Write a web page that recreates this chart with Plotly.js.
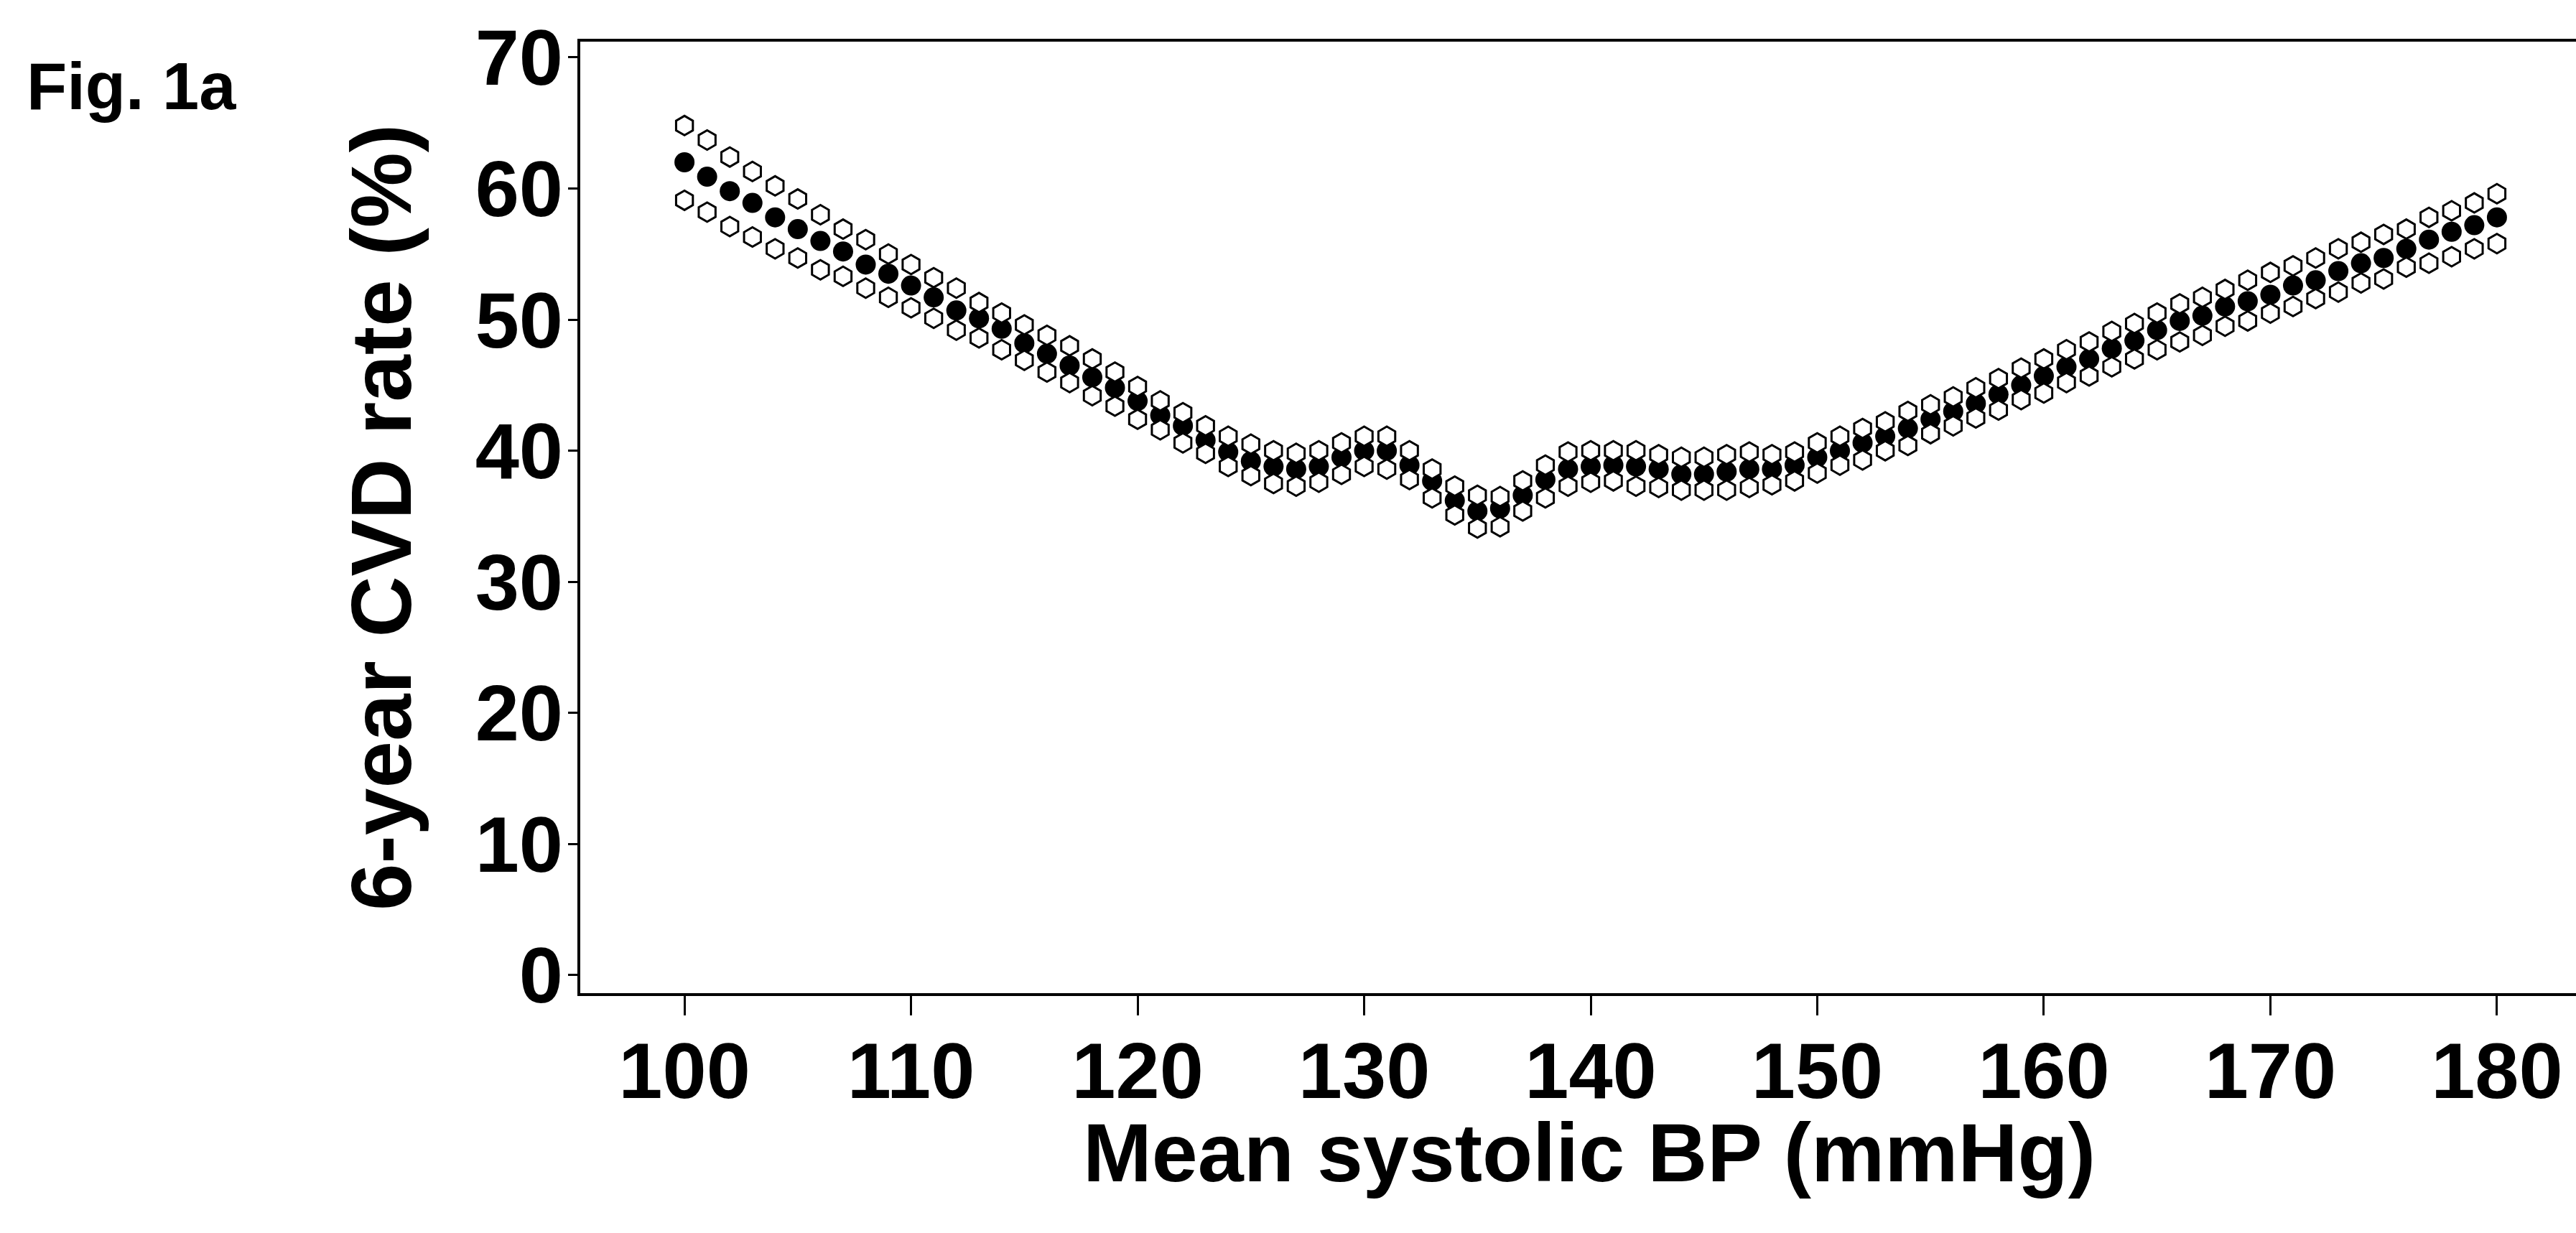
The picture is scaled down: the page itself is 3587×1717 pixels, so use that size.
<!DOCTYPE html>
<html>
<head>
<meta charset="utf-8">
<script src="https://cdn.plot.ly/plotly-3.0.1.min.js"></script>
<style>
  html, body { margin: 0; padding: 0; background: #ffffff; }
  #chart { width: 3587px; height: 1717px; }
</style>
</head>
<body>
<div id="chart"></div>
<script>
// Mean systolic BP (mmHg), one point per mmHg
const systolicBP = [];
for (let v = 100; v <= 180; v++) systolicBP.push(v);

// 6-year CVD rate (%) - point estimate (filled markers)
const cvdRate = [
  62.0, 60.9, 59.8, 58.9, 57.8, 56.9, 56.0, 55.2, 54.2, 53.5,
  52.6, 51.7, 50.7, 50.1, 49.3, 48.2, 47.4, 46.5, 45.6, 44.8,
  43.8, 42.7, 41.9, 40.8, 39.9, 39.2, 38.8, 38.6, 38.8, 39.5,
  40.0, 40.0, 38.9, 37.7, 36.2, 35.4, 35.6, 36.6, 37.8, 38.6,
  38.8, 38.9, 38.8, 38.6, 38.2, 38.2, 38.4, 38.6, 38.6, 38.9,
  39.5, 40.0, 40.6, 41.1, 41.7, 42.4, 43.0, 43.6, 44.3, 45.0,
  45.7, 46.4, 47.0, 47.8, 48.4, 49.2, 49.9, 50.3, 51.0, 51.4,
  51.9, 52.6, 53.0, 53.7, 54.3, 54.7, 55.4, 56.1, 56.7, 57.2,
  57.8
];

// Upper bound (open markers)
const cvdUpper = [
  64.8, 63.7, 62.4, 61.3, 60.2, 59.2, 58.0, 56.9, 56.1, 55.0,
  54.2, 53.2, 52.4, 51.3, 50.5, 49.6, 48.8, 48.0, 47.0, 46.0,
  44.9, 43.8, 42.9, 41.9, 41.1, 40.5, 40.0, 39.8, 40.0, 40.6,
  41.1, 41.1, 40.0, 38.6, 37.3, 36.6, 36.5, 37.7, 38.9, 39.9,
  40.0, 40.0, 40.0, 39.7, 39.5, 39.5, 39.7, 39.9, 39.7, 39.9,
  40.6, 41.1, 41.7, 42.2, 43.0, 43.5, 44.1, 44.8, 45.5, 46.3,
  47.0, 47.7, 48.3, 49.1, 49.7, 50.5, 51.2, 51.7, 52.3, 53.0,
  53.6, 54.1, 54.7, 55.4, 55.9, 56.5, 56.9, 57.8, 58.3, 58.9,
  59.6
];

// Lower bound (open markers)
const cvdLower = [
  59.1, 58.2, 57.1, 56.3, 55.4, 54.7, 53.8, 53.3, 52.4, 51.7,
  50.9, 50.1, 49.2, 48.6, 47.7, 46.9, 46.0, 45.2, 44.2, 43.4,
  42.4, 41.6, 40.6, 39.8, 38.8, 38.1, 37.5, 37.3, 37.6, 38.2,
  38.8, 38.6, 37.8, 36.4, 35.1, 34.1, 34.2, 35.4, 36.4, 37.3,
  37.6, 37.7, 37.3, 37.2, 37.0, 37.0, 37.0, 37.2, 37.4, 37.7,
  38.3, 38.9, 39.3, 40.0, 40.4, 41.3, 41.9, 42.5, 43.1, 43.9,
  44.4, 45.2, 45.7, 46.4, 47.0, 47.7, 48.3, 48.8, 49.5, 49.9,
  50.5, 51.0, 51.6, 52.1, 52.8, 53.1, 54.0, 54.3, 54.8, 55.4,
  55.8
];

const xTicks = [100, 110, 120, 130, 140, 150, 160, 170, 180];
const yTicks = [0, 10, 20, 30, 40, 50, 60, 70];
const xTitle = 'Mean systolic BP (mmHg)';
const yTitle = '6-year CVD rate (%)';
const figLabel = 'Fig. 1a';

const FONT = '"Liberation Sans", Arial, sans-serif';

const traces = [
  {
    x: systolicBP, y: cvdRate, type: 'scatter', mode: 'markers', name: 'CVD rate',
    marker: { symbol: 'circle', size: 28, color: '#000000', line: { width: 0 } }
  },
  {
    x: systolicBP, y: cvdUpper, type: 'scatter', mode: 'markers', name: 'Upper',
    marker: { symbol: 'hexagon', size: 27, color: '#ffffff', line: { width: 3, color: '#000000' } }
  },
  {
    x: systolicBP, y: cvdLower, type: 'scatter', mode: 'markers', name: 'Lower',
    marker: { symbol: 'hexagon', size: 27, color: '#ffffff', line: { width: 3, color: '#000000' } }
  }
];

const layout = {
  width: 3587, height: 1717,
  paper_bgcolor: '#ffffff', plot_bgcolor: '#ffffff',
  showlegend: false,
  margin: { l: 808, r: 0, t: 58, b: 334, pad: 0 },
  font: { family: FONT, color: '#000000', size: 110, weight: 'bold' },
  title: {
    text: figLabel,
    font: { family: FONT, size: 92, color: '#000000', weight: 'bold' },
    xref: 'container', yref: 'container',
    x: 37 / 3587, xanchor: 'left',
    y: 1 - 120 / 1717, yanchor: 'middle'
  },
  xaxis: {
    range: [95.4, 183.49],
    tickvals: xTicks, ticktext: xTicks.map(String),
    ticks: 'outside', ticklen: 27, tickwidth: 3, tickcolor: '#000000',
    showline: true, linewidth: 4, linecolor: '#000000',
    mirror: true,
    showgrid: false, zeroline: false,
    ticklabelstandoff: -17,
    tickfont: { family: FONT, size: 110, color: '#000000', weight: 'bold' }
  },
  yaxis: {
    range: [-1.37, 71.2],
    tickvals: yTicks, ticktext: yTicks.map(String),
    ticks: 'outside', ticklen: 13, tickwidth: 3, tickcolor: '#000000',
    showline: true, linewidth: 4, linecolor: '#000000',
    mirror: false,
    showgrid: false, zeroline: false,
    ticklabelstandoff: -15,
    tickfont: { family: FONT, size: 110, color: '#000000', weight: 'bold' },
    title: {
      text: yTitle,
      font: { family: FONT, size: 118, color: '#000000', weight: 'bold' },
      standoff: 50
    }
  },
  annotations: [
    {
      // x-axis title
      text: xTitle,
      xref: 'paper', yref: 'paper',
      x: 0.5056, xanchor: 'center',
      y: -0.1185, yanchor: 'top',
      borderpad: 0,
      showarrow: false,
      font: { family: FONT, size: 115, color: '#000000', weight: 'bold' }
    }
  ]
};

Plotly.newPlot('chart', traces, layout, { staticPlot: true, displayModeBar: false });
</script>
</body>
</html>
